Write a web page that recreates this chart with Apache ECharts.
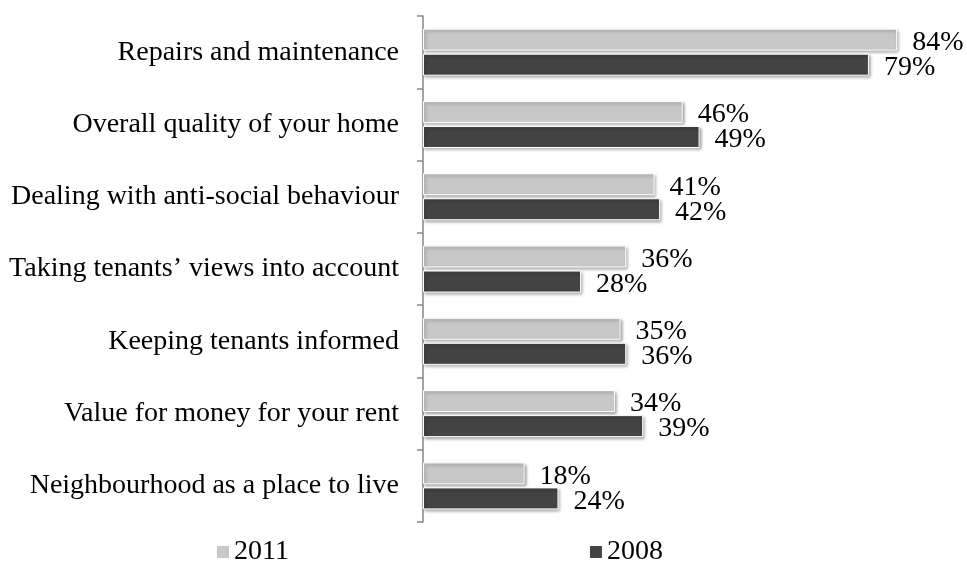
<!DOCTYPE html>
<html>
<head>
<meta charset="utf-8">
<style>
  html, body { margin: 0; padding: 0; background: #ffffff; }
  #chart { width: 967px; height: 563px; }
</style>
<script src="https://cdn.jsdelivr.net/npm/echarts@6/dist/echarts.min.js"></script>
</head>
<body>
<div id="chart"></div>
<script>
// Tenant satisfaction by service area, 2011 vs 2008 (percent satisfied)
const categories = [
  'Repairs and maintenance',
  'Overall quality of your home',
  'Dealing with anti-social behaviour',
  'Taking tenants\u2019 views into account',
  'Keeping tenants informed',
  'Value for money for your rent',
  'Neighbourhood as a place to live'
];
const values2011 = [84, 46, 41, 36, 35, 34, 18];
const values2008 = [79, 49, 42, 28, 36, 39, 24];
const seriesNames = ['2011', '2008'];

const FONT = '"Liberation Serif", serif';
const FONT_SIZE = 28;

function barSeries(name, data, color) {
  return {
    name: name,
    type: 'bar',
    data: data,
    barWidth: 22,
    barGap: '14%',
    itemStyle: {
      color: color,
      borderColor: '#ffffff',
      borderWidth: 1,
      shadowColor: 'rgba(0,0,0,0.35)',
      shadowBlur: 3,
      shadowOffsetX: 1.5,
      shadowOffsetY: 2
    },
    label: {
      show: true,
      position: 'right',
      distance: 15,
      offset: [0, 3],
      formatter: '{c}%',
      fontFamily: FONT,
      fontSize: FONT_SIZE,
      color: '#000000'
    }
  };
}

const chart = echarts.init(document.getElementById('chart'));
chart.setOption({
  animation: false,
  backgroundColor: '#ffffff',
  grid: { left: 423, right: 36, top: 16, bottom: 41 },
  xAxis: {
    type: 'value',
    min: 0,
    max: 90,
    show: false
  },
  yAxis: {
    type: 'category',
    data: categories,
    inverse: true,
    axisLine: { show: true, lineStyle: { color: '#868686', width: 1.5 } },
    axisTick: { show: true, length: 6, inside: false, lineStyle: { color: '#868686', width: 1.5 } },
    axisLabel: {
      margin: 24,
      fontFamily: FONT,
      fontSize: FONT_SIZE,
      color: '#000000'
    },
    splitLine: { show: false }
  },
  legend: {
    data: seriesNames,
    left: 217,
    top: 538,
    padding: 0,
    itemWidth: 12,
    itemHeight: 12,
    itemGap: 301,
    icon: 'rect',
    itemStyle: { borderWidth: 0, shadowBlur: 0, shadowOffsetX: 0, shadowOffsetY: 0 },
    textStyle: { fontFamily: FONT, fontSize: FONT_SIZE, color: '#000000' }
  },
  series: [
    barSeries(seriesNames[0], values2011, '#c8c8c8'),
    barSeries(seriesNames[1], values2008, '#434343')
  ]
});
</script>
</body>
</html>
